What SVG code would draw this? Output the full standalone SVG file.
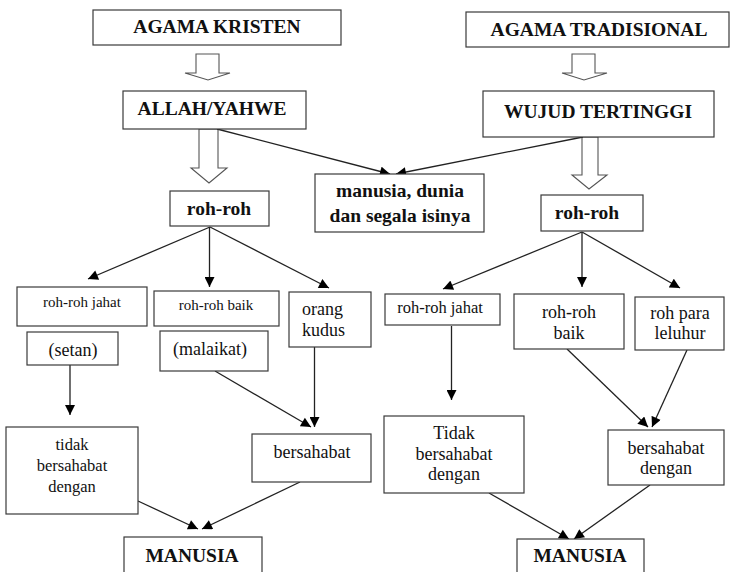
<svg xmlns="http://www.w3.org/2000/svg" width="730" height="572" viewBox="0 0 730 572">
<style>
.box{fill:#fff;stroke:#3a3a3a;stroke-width:1.2}
.hol{fill:#fff;stroke:#555;stroke-width:1.1}
.ln{fill:none;stroke:#222;stroke-width:1.3}
.b{font-family:"Liberation Serif","Times New Roman",serif;font-weight:bold;font-size:19.5px;fill:#111;text-anchor:middle}
.r{font-family:"Liberation Serif","Times New Roman",serif;font-size:18px;fill:#111;text-anchor:middle}
.s{font-size:15px}
</style>
<defs>
<marker id="ah" viewBox="0 0 10 10" refX="10" refY="5" markerWidth="11" markerHeight="10" markerUnits="userSpaceOnUse" orient="auto"><path d="M0,0 L10,5 L0,10 z" fill="#000"/></marker>
</defs>
<rect width="730" height="572" fill="#fff"/>
<g id="connectors">
<polygon class="hol" points="196,54 219,54 219,73 230,73 208,80 185,73 196,73"/>
<polygon class="hol" points="199,129 218,129 218,168 227,168 209,183 191,168 199,168"/>
<polygon class="hol" points="572,54 595,54 595,73 607,73 584,80 562,73 572,73"/>
<polygon class="hol" points="582,137 598,137 598,175 607,175 589,189 572,175 582,175"/>
<line class="ln" x1="217" y1="129" x2="390" y2="174" marker-end="url(#ah)"/>
<line class="ln" x1="583" y1="137" x2="396" y2="174" marker-end="url(#ah)"/>
<line class="ln" x1="210" y1="227" x2="88" y2="279" marker-end="url(#ah)"/>
<line class="ln" x1="209.5" y1="227" x2="209.5" y2="287" marker-end="url(#ah)"/>
<line class="ln" x1="210" y1="227" x2="329" y2="288" marker-end="url(#ah)"/>
<line class="ln" x1="582" y1="232" x2="443" y2="289" marker-end="url(#ah)"/>
<line class="ln" x1="582" y1="232" x2="582" y2="287" marker-end="url(#ah)"/>
<line class="ln" x1="582" y1="232" x2="680" y2="288" marker-end="url(#ah)"/>
<line class="ln" x1="70" y1="365" x2="70" y2="415" marker-end="url(#ah)"/>
<line class="ln" x1="215" y1="371" x2="311" y2="427" marker-end="url(#ah)"/>
<line class="ln" x1="314.5" y1="347" x2="314.5" y2="427" marker-end="url(#ah)"/>
<line class="ln" x1="451.5" y1="326" x2="451.5" y2="400" marker-end="url(#ah)"/>
<line class="ln" x1="567" y1="349" x2="648" y2="427" marker-end="url(#ah)"/>
<line class="ln" x1="687" y1="350" x2="652" y2="427" marker-end="url(#ah)"/>
<line class="ln" x1="138" y1="501" x2="198" y2="529" marker-end="url(#ah)"/>
<line class="ln" x1="300" y1="482" x2="202" y2="529" marker-end="url(#ah)"/>
<line class="ln" x1="489" y1="493" x2="569" y2="539" marker-end="url(#ah)"/>
<line class="ln" x1="650" y1="485" x2="574" y2="539" marker-end="url(#ah)"/>
</g>
<g id="agama-kristen"><rect class="box" x="93" y="10" width="248" height="35"/><text class="b" x="217" y="33">AGAMA KRISTEN</text></g>
<g id="agama-tradisional"><rect class="box" x="466" y="12" width="263" height="35"/><text class="b" x="599" y="36">AGAMA TRADISIONAL</text></g>
<g id="allah"><rect class="box" x="123" y="91" width="183" height="38"/><text class="b" x="212" y="115">ALLAH/YAHWE</text></g>
<g id="wujud"><rect class="box" x="483" y="91" width="231" height="46"/><text class="b" x="598" y="118">WUJUD TERTINGGI</text></g>
<g id="manusia-dunia"><rect class="box" x="315" y="174" width="169" height="58"/><text class="b" x="400" y="197">manusia, dunia</text><text class="b" x="400" y="222">dan segala isinya</text></g>
<g id="roh-left"><rect class="box" x="170" y="191" width="99" height="35"/><text class="b" x="219" y="215">roh-roh</text></g>
<g id="roh-right"><rect class="box" x="541" y="195" width="102" height="36"/><text class="b" x="587" y="219">roh-roh</text></g>
<g id="jahat-left"><rect class="box" x="17" y="287" width="130" height="39"/><text class="r s" x="82" y="307">roh-roh jahat</text></g>
<g id="baik-left"><rect class="box" x="154" y="291" width="125" height="35"/><text class="r s" x="216" y="310">roh-roh baik</text></g>
<g id="orang-kudus"><rect class="box" x="289" y="292" width="82" height="55"/><text class="r" x="302" y="315" style="text-anchor:start">orang</text><text class="r" x="302" y="336" style="text-anchor:start">kudus</text></g>
<g id="setan"><rect class="box" x="27" y="332" width="91" height="33"/><text class="r" x="73" y="356">(setan)</text></g>
<g id="malaikat"><rect class="box" x="160" y="331" width="108" height="40"/><text class="r" x="210" y="355">(malaikat)</text></g>
<g id="jahat-right"><rect class="box" x="385" y="294" width="115" height="31"/><text class="r" x="440" y="313" style="font-size:16.5px">roh-roh jahat</text></g>
<g id="baik-right"><rect class="box" x="514" y="294" width="110" height="55"/><text class="r" x="569" y="318">roh-roh</text><text class="r" x="569" y="339">baik</text></g>
<g id="leluhur"><rect class="box" x="635" y="297" width="89" height="53"/><text class="r" x="680" y="319">roh para</text><text class="r" x="680" y="339">leluhur</text></g>
<g id="tidak-left"><rect class="box" x="6" y="427" width="132" height="87"/><text class="r" x="72" y="450" style="font-size:16.5px">tidak</text><text class="r" x="72" y="471" style="font-size:16.5px">bersahabat</text><text class="r" x="72" y="492" style="font-size:16.5px">dengan</text></g>
<g id="bersahabat-left"><rect class="box" x="252" y="434" width="119" height="48"/><text class="r" x="312" y="458">bersahabat</text></g>
<g id="tidak-right"><rect class="box" x="384" y="416" width="140" height="77"/><text class="r" x="454" y="439">Tidak</text><text class="r" x="454" y="460">bersahabat</text><text class="r" x="454" y="480">dengan</text></g>
<g id="bersahabat-right"><rect class="box" x="608" y="430" width="116" height="55"/><text class="r" x="666" y="454">bersahabat</text><text class="r" x="666" y="474">dengan</text></g>
<g id="manusia-left"><rect class="box" x="124" y="537" width="138" height="45"/><text class="b" x="192" y="562">MANUSIA</text></g>
<g id="manusia-right"><rect class="box" x="517" y="539" width="127" height="45"/><text class="b" x="580" y="562">MANUSIA</text></g>
</svg>
